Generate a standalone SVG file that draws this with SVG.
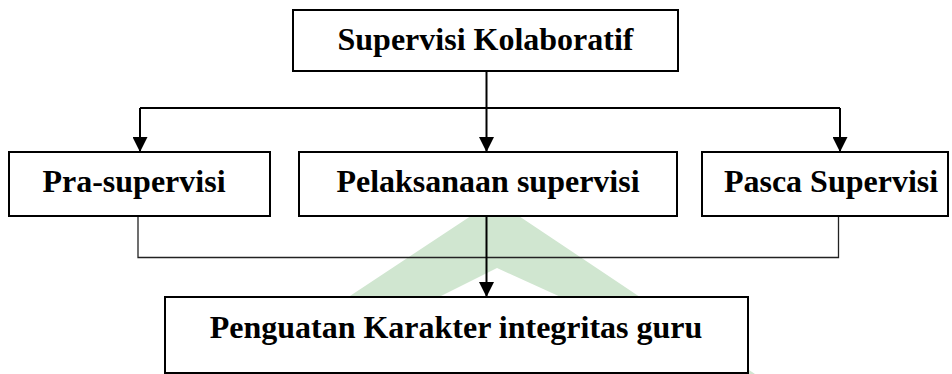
<svg xmlns="http://www.w3.org/2000/svg" width="952" height="374" viewBox="0 0 952 374">
<style>
.box{fill:#fff;stroke:#000;stroke-width:2}
.lbl{font-family:"Liberation Serif","Times New Roman",serif;font-weight:bold;font-size:32px;fill:#000;text-anchor:middle}
.ln{fill:none;stroke:#000;stroke-width:2}
.thin{fill:none;stroke:#222;stroke-width:1.3}
</style>
<defs>
<marker id="ah" markerWidth="15" markerHeight="15" refX="15" refY="7.5" orient="auto" markerUnits="userSpaceOnUse">
<path d="M0,0 L15,7.5 L0,15 Z" fill="#000"/>
</marker>
</defs>
<rect width="952" height="374" fill="#fff"/>
<path id="watermark" fill="#d0e6d0" fill-rule="evenodd" d="M495,200 L232,374 L755,374 Z M497,268 L285,374 L730,374 Z"/>
<g id="connectors">
<path class="ln" d="M486.5,71 V108"/>
<path class="ln" d="M140,108 H840"/>
<path class="ln" d="M140,108 V152" marker-end="url(#ah)"/>
<path class="ln" d="M486.5,108 V152" marker-end="url(#ah)"/>
<path class="ln" d="M840,108 V152" marker-end="url(#ah)"/>
<path class="thin" d="M138,216 V257.5 H838.5 V216"/>
<path class="ln" d="M486.5,216 V297" marker-end="url(#ah)"/>
</g>
<g id="node-top">
<rect class="box" x="293" y="10" width="385" height="61"/>
<text class="lbl" x="485.5" y="50">Supervisi Kolaboratif</text>
</g>
<g id="node-pra">
<rect class="box" x="9" y="152" width="261" height="64"/>
<text class="lbl" x="134" y="192">Pra-supervisi</text>
</g>
<g id="node-pelaksanaan">
<rect class="box" x="299" y="152" width="378" height="64"/>
<text class="lbl" x="488" y="192">Pelaksanaan supervisi</text>
</g>
<g id="node-pasca">
<rect class="box" x="702" y="152" width="246" height="64"/>
<text class="lbl" x="831" y="192">Pasca Supervisi</text>
</g>
<g id="node-bottom">
<rect class="box" x="165" y="297" width="583" height="76"/>
<text class="lbl" x="456" y="338">Penguatan Karakter integritas guru</text>
</g>
</svg>
